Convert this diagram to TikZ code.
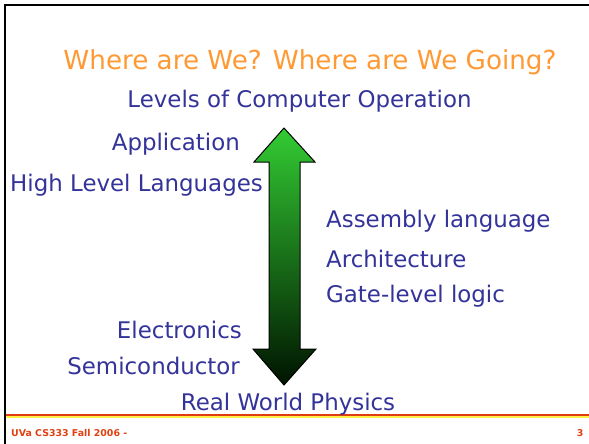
\documentclass[tikz,border=0pt]{standalone}
\usepackage{fontspec}
\setmainfont{DejaVu Sans}
\definecolor{titleorange}{RGB}{255,153,51}
\definecolor{bodyblue}{RGB}{51,51,153}
\definecolor{footred}{RGB}{224,64,16}
\definecolor{rulered}{RGB}{224,60,20}
\definecolor{ruleyellow}{RGB}{255,240,70}
\definecolor{arrowtop}{RGB}{51,204,51}
\definecolor{arrowbottom}{RGB}{0,20,0}
\tikzset{
  title/.style={text=titleorange, font=\fontsize{26.2}{29}\selectfont, inner sep=0pt, anchor=base},
  level/.style={text=bodyblue, font=\fontsize{22.9}{25}\selectfont, inner sep=0pt},
  footer/.style={text=footred, font=\bfseries\fontsize{9.4}{11}\selectfont, inner sep=0pt},
}
\begin{document}
\begin{tikzpicture}[x=1pt,y=-1pt]
\useasboundingbox (0,0) rectangle (589,444);
\fill[white] (0,0) rectangle (589,444);

% slide frame
\draw[line width=2pt] (4.5,444) -- (4.5,5.5) -- (589,5.5);
\draw[rulered, line width=1.5pt] (5.5,414.8) -- (589,414.8);
\draw[ruleyellow, line width=2pt] (5.5,417.2) -- (589,417.2);

% heading
\node[title] (heading) at (310,69.5) {Where are We? Where are We Going?};
\node[level, anchor=base] (levels) at (299.5,107.5) {Levels of Computer Operation};

% double-headed shaded arrow
\shadedraw[top color=arrowtop, bottom color=arrowbottom, draw=black, line width=1pt, line join=miter]
  (284,128) -- (315,162) -- (300,162) -- (300,349) -- (316,349) -- (284,385)
  -- (253,349) -- (269,349) -- (269,162) -- (254,162) -- cycle;

% levels on the left
\node[level, anchor=base east] (app) at (240,150.5) {Application};
\node[level, anchor=base east] (hll) at (263,191.5) {High Level Languages};
\node[level, anchor=base east] (elec) at (242,338.5) {Electronics};
\node[level, anchor=base east] (semi) at (240,374.5) {Semiconductor};

% levels on the right
\node[level, anchor=base west] (asm) at (326,227.5) {Assembly language};
\node[level, anchor=base west] (arch) at (326,267) {Architecture};
\node[level, anchor=base west] (gate) at (326,302) {Gate-level logic};

% bottom level
\node[level, anchor=base] (phys) at (288,410.5) {Real World Physics};

% footer
\node[footer, anchor=base west] (course) at (11,436.5) {UVa CS333 Fall 2006 -};
\node[footer, anchor=base east] (page) at (583.5,436.5) {3};
\end{tikzpicture}
\end{document}
